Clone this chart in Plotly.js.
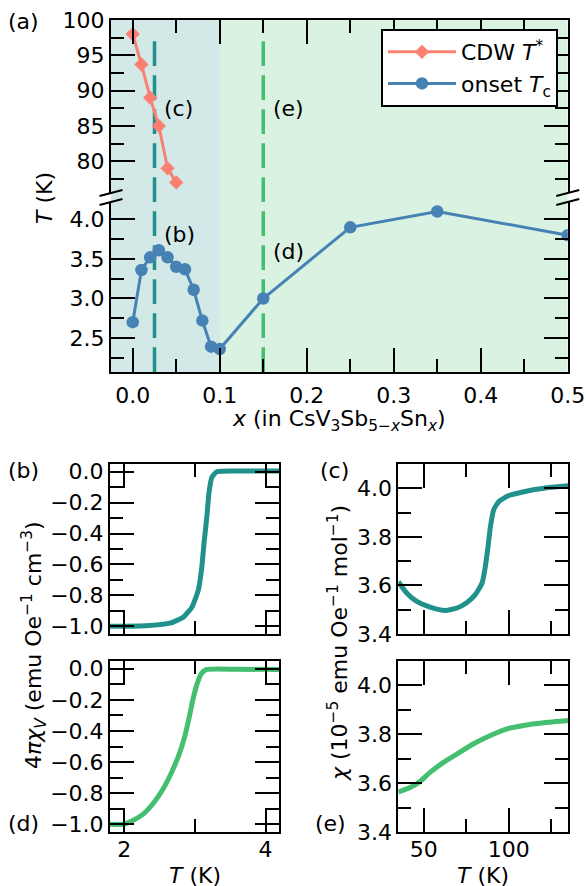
<!DOCTYPE html>
<html>
<head>
<meta charset="utf-8">
<script src="https://cdn.plot.ly/plotly-3.0.1.min.js"></script>
<style>html,body{margin:0;padding:0;background:#fff;}#plot{width:586px;height:886px;}</style>
</head>
<body>
<div id="plot"></div>
<script>
// ---- data: panel (a) ----
const cdwX = [0, 0.01, 0.02, 0.03, 0.04, 0.05];
const cdwT = [98, 93.7, 89, 85, 79, 77];
const tcX = [0, 0.01, 0.02, 0.03, 0.04, 0.05, 0.06, 0.07, 0.08, 0.09, 0.1, 0.15, 0.25, 0.35, 0.5];
const tcT = [2.7, 3.36, 3.52, 3.61, 3.52, 3.40, 3.37, 3.11, 2.72, 2.39, 2.36, 3.0, 3.9, 4.1, 3.8];
// ---- panel (b): x = 0.025 ----
const bT = [1.8, 2.0, 2.36, 2.65, 2.84, 2.96, 3.05, 3.10, 3.13, 3.17, 3.20, 3.24, 3.31, 3.6, 4.2];
const bChi = [-1.0, -1.0, -0.995, -0.98, -0.94, -0.875, -0.765, -0.61, -0.46, -0.29, -0.135, -0.037, 0.0, 0.005, 0.005];
// ---- panel (d): x = 0.15 ----
const dT = [1.8, 1.99, 2.13, 2.27, 2.41, 2.55, 2.67, 2.78, 2.86, 2.92, 2.98, 3.04, 3.09, 3.16, 3.6, 4.2];
const dChi = [-1.0, -1.0, -0.974, -0.935, -0.867, -0.774, -0.667, -0.548, -0.43, -0.312, -0.183, -0.086, -0.032, -0.005, -0.003, -0.005];
// ---- panel (c): x = 0.025 ----
const cT = [35, 39.9, 45.9, 53.7, 62.6, 69.5, 75.4, 80.3, 84.3, 86.2, 87.8, 89.2, 91.1, 94.1, 100, 108.8, 120.6, 135];
const cChi = [3.615, 3.569, 3.534, 3.511, 3.497, 3.507, 3.530, 3.562, 3.610, 3.678, 3.760, 3.842, 3.911, 3.945, 3.970, 3.986, 4.0, 4.01];
// ---- panel (e): x = 0.15 ----
const eT = [35, 41.9, 47.8, 53.7, 61.6, 69.5, 79.3, 89.2, 99, 108.8, 120.6, 135];
const eChi = [3.563, 3.582, 3.607, 3.644, 3.685, 3.719, 3.761, 3.795, 3.822, 3.836, 3.847, 3.856];
// selected compositions (dashed lines)
const selX = [0.025, 0.15];

const W = 586, H = 886;
const px = v => v / W;
const py = v => 1 - v / H;
const FONT = 'DejaVu Sans, sans-serif';
const FS = 22;
const teal = '#21918c', green = '#44bf70';
const salmon = '#fa8072', steel = '#4682b4';

function axBase(extra) {
  return Object.assign({
    showline: true, linecolor: 'black', linewidth: 2,
    ticks: 'inside', ticklen: 24, tickwidth: 2, tickcolor: 'black',
    showgrid: false, zeroline: false, mirror: 'ticks',
    tickfont: {family: FONT, size: FS, color: 'black'},
    automargin: false, fixedrange: true
  }, extra);
}
function minor(d) {
  return {dtick: d, ticks: 'inside', ticklen: 13, tickwidth: 2, tickcolor: 'black', showgrid: false};
}

const traces = [
  {x: cdwX, y: cdwT, xaxis: 'x2', yaxis: 'y', mode: 'lines+markers', name: 'CDW <i>T</i><sup>*</sup>',
   line: {color: salmon, width: 3}, marker: {symbol: 'diamond', size: 11, color: salmon}},
  {x: tcX, y: tcT, xaxis: 'x', yaxis: 'y2', mode: 'lines+markers', name: 'onset <i>T</i><sub>c</sub>',
   line: {color: steel, width: 3}, marker: {symbol: 'circle', size: 12.5, color: steel}},
  {x: bT, y: bChi, xaxis: 'x3', yaxis: 'y3', mode: 'lines', line: {color: teal, width: 5, shape: 'spline', smoothing: 0.5}, showlegend: false},
  {x: dT, y: dChi, xaxis: 'x4', yaxis: 'y4', mode: 'lines', line: {color: green, width: 5, shape: 'spline', smoothing: 0.5}, showlegend: false},
  {x: cT, y: cChi, xaxis: 'x5', yaxis: 'y5', mode: 'lines', line: {color: teal, width: 5, shape: 'spline', smoothing: 0.5}, showlegend: false},
  {x: eT, y: eChi, xaxis: 'x6', yaxis: 'y6', mode: 'lines', line: {color: green, width: 5, shape: 'spline', smoothing: 0.6}, showlegend: false}
];

const topXdom = [px(111), px(567.75)];
const botLdom = [px(110), px(279)];
const botRdom = [px(398.3), px(568.3)];
const bDom = [py(634), py(464)];
const dDom = [py(832), py(661)];

const layout = {
  width: W, height: H,
  margin: {l: 0, r: 0, t: 0, b: 0},
  paper_bgcolor: 'white', plot_bgcolor: 'rgba(0,0,0,0)',
  font: {family: FONT, size: FS, color: 'black'},
  showlegend: true,
  legend: {x: px(558), y: py(29), xanchor: 'right', yanchor: 'top',
    bgcolor: 'white', bordercolor: 'black', borderwidth: 2,
    font: {family: FONT, size: FS, color: 'black'}, itemwidth: 68, tracegroupgap: 0},
  // panel (a) lower x axis
  xaxis: axBase({domain: topXdom, range: [-0.025, 0.5], anchor: 'y2', dtick: 0.1, tick0: 0,
    tickformat: '.1f', minor: minor(0.05), mirror: false, ticklabelstandoff: 3}),
  // panel (a) top spine
  xaxis2: axBase({domain: topXdom, range: [-0.025, 0.5], anchor: 'y', side: 'top', matches: 'x',
    dtick: 0.1, tick0: 0, showticklabels: false, minor: minor(0.05), mirror: false}),
  yaxis: axBase({domain: [py(193), py(20)], range: [75.5, 100], anchor: 'x2', dtick: 5, tick0: 0,
    minor: minor(2.5)}),
  yaxis2: axBase({domain: [py(372), py(202)], range: [2.07, 4.22], anchor: 'x', dtick: 0.5, tick0: 0,
    tickformat: '.1f', minor: minor(0.25)}),
  // (b)
  xaxis3: axBase({domain: botLdom, range: [1.8, 4.19], anchor: 'y3', dtick: 2, tick0: 0, minor: minor(1), showticklabels: false}),
  yaxis3: axBase({domain: bDom, range: [-1.05, 0.05], anchor: 'x3', dtick: 0.2, tick0: 0, tickformat: '.1f', minor: minor(0.1)}),
  // (d)
  xaxis4: axBase({domain: botLdom, range: [1.8, 4.19], anchor: 'y4', dtick: 2, tick0: 0, minor: minor(1), ticklabelstandoff: -3}),
  yaxis4: axBase({domain: dDom, range: [-1.05, 0.05], anchor: 'x4', dtick: 0.2, tick0: 0, tickformat: '.1f', minor: minor(0.1)}),
  // (c)
  xaxis5: axBase({domain: botRdom, range: [35, 135], anchor: 'y5', dtick: 50, tick0: 0, minor: minor(25), showticklabels: false}),
  yaxis5: axBase({domain: bDom, range: [3.4, 4.1], anchor: 'x5', tickvals: [3.4, 3.6, 3.8, 4.0], tickformat: '.1f',
    minor: {tickvals: [3.5, 3.7, 3.9], ticks: 'inside', ticklen: 13, tickwidth: 2, tickcolor: 'black', showgrid: false}}),
  // (e)
  xaxis6: axBase({domain: botRdom, range: [35, 135], anchor: 'y6', dtick: 50, tick0: 0, minor: minor(25), ticklabelstandoff: -3}),
  yaxis6: axBase({domain: dDom, range: [3.4, 4.1], anchor: 'x6', tickvals: [3.4, 3.6, 3.8, 4.0], tickformat: '.1f',
    minor: {tickvals: [3.5, 3.7, 3.9], ticks: 'inside', ticklen: 13, tickwidth: 2, tickcolor: 'black', showgrid: false}}),
  shapes: [],
  annotations: []
};

// shaded composition regions and dashed markers in panel (a)
layout.shapes.push(
  {type: 'rect', xref: 'x', yref: 'paper', x0: -0.025, x1: 0.1, y0: py(372), y1: py(20),
   fillcolor: 'rgba(33,145,140,0.2)', line: {width: 0}, layer: 'below'},
  {type: 'rect', xref: 'x', yref: 'paper', x0: 0.1, x1: 0.5, y0: py(372), y1: py(20),
   fillcolor: 'rgba(68,191,112,0.2)', line: {width: 0}, layer: 'below'}
);
[teal, green].forEach((c, i) => {
  layout.shapes.push({type: 'line', xref: 'x', yref: 'paper', x0: selX[i], x1: selX[i], y0: py(372), y1: py(40),
    line: {color: c, width: 3.5, dash: '24.7px,9.3px'}, layer: 'below'});
});
// axis break marks
[111, 567.75].forEach(xc => {
  [193, 202].forEach(yc => {
    layout.shapes.push({type: 'line', xref: 'paper', yref: 'paper',
      x0: px(xc - 11.5), x1: px(xc + 11.5), y0: py(yc + 3), y1: py(yc - 3),
      line: {color: 'black', width: 2}});
  });
});

function ann(text, x, y, opts) {
  return Object.assign({text: text, x: x, y: y, xref: 'paper', yref: 'paper', showarrow: false,
    xanchor: 'left', yanchor: 'middle', font: {family: FONT, size: FS, color: 'black'}}, opts || {});
}
layout.annotations.push(
  ann('(a)', px(6), py(21.5)),
  ann('(c)', 0.034, 87.5, {xref: 'x2', yref: 'y'}),
  ann('(e)', 0.159, 87.5, {xref: 'x2', yref: 'y'}),
  ann('(b)', 0.034, 3.815, {xref: 'x', yref: 'y2'}),
  ann('(d)', 0.159, 3.59, {xref: 'x', yref: 'y2'}),
  ann('(b)', px(6), py(470)),
  ann('(d)', px(6), py(823)),
  ann('(c)', px(318), py(470)),
  ann('(e)', px(313), py(823)),
  ann('<i>T</i> (K)', px(44), py(198), {xanchor: 'center', textangle: -90}),
  ann('<i>x</i> (in CsV<sub>3</sub>Sb<sub>5\u2212<i>x</i></sub>Sn<sub><i>x</i></sub>)', px(339), py(421), {xanchor: 'center'}),
  ann('4<i>\u03c0\u03c7</i><sub><i>V</i></sub> (emu Oe<sup>\u22121</sup> cm<sup>\u22123</sup>)', px(34), py(645), {xanchor: 'center', textangle: -90}),
  ann('<i>\u03c7</i> (10<sup>\u22125</sup> emu Oe<sup>\u22121</sup> mol<sup>\u22121</sup>)', px(338), py(643), {xanchor: 'center', textangle: -90}),
  ann('<i>T</i> (K)', px(194.5), py(875), {xanchor: 'center', yanchor: 'middle', borderpad: 0, height: 22}),
  ann('<i>T</i> (K)', px(483.3), py(875), {xanchor: 'center', yanchor: 'middle', borderpad: 0, height: 22})
);

Plotly.newPlot('plot', traces, layout, {staticPlot: true, displayModeBar: false});
</script>
</body>
</html>
